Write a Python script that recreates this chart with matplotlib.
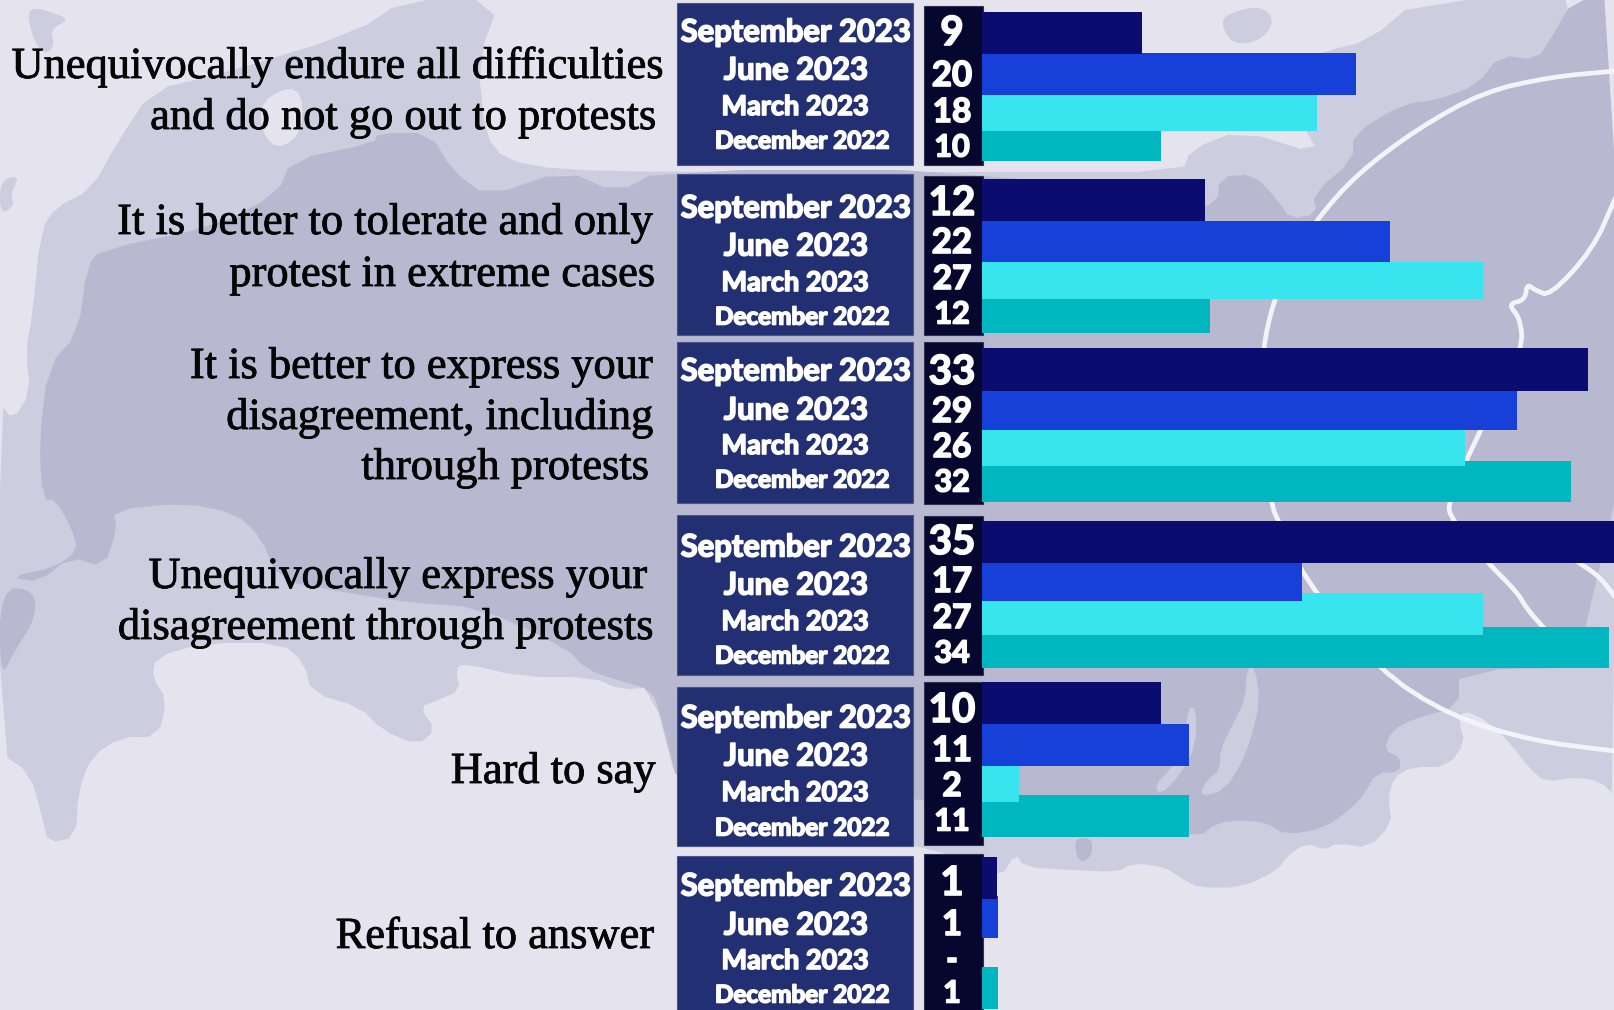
import matplotlib
matplotlib.use("Agg")
import matplotlib.pyplot as plt
from matplotlib.patches import Polygon, Rectangle
import matplotlib.patheffects as pe

# data
categories = [
    ["Unequivocally endure all difficulties", "and do not go out to protests"],
    ["It is better to tolerate and only", "protest in extreme cases"],
    ["It is better to express your", "disagreement, including", "through protests"],
    ["Unequivocally express your", "disagreement through protests"],
    ["Hard to say"],
    ["Refusal to answer"],
]
waves = ["September 2023", "June 2023", "March 2023", "December 2022"]
value_labels = [
    ["9", "20", "18", "10"],
    ["12", "22", "27", "12"],
    ["33", "29", "26", "32"],
    ["35", "17", "27", "34"],
    ["10", "11", "2", "11"],
    ["1", "1", "-", "1"],
]
# bar lengths as drawn, in percent
sep_2023 = [8.64, 12.05, 32.76, 35, 9.68, 0.81]
jun_2023 = [20.2, 22.05, 28.92, 17.3, 11.19, 0.86]
mar_2023 = [18.1, 27.08, 26.1, 27.08, 2.0, 0]
dec_2022 = [9.68, 12.32, 31.84, 33.9, 11.19, 0.86]

# colours
BG = "#e4e3ee"
MID = "#cdcde0"
DARK = "#b8b8d0"
RING = "#f4f4f8"
BOX = "#222f72"
NUMBOX = "#05072f"
C_SEP = "#0a0c70"
C_JUN = "#1640d8"
C_MAR = "#38e4ee"
C_DEC = "#00b7bf"

W, H = 1615, 1010
BAR_X0 = 982
PX_PER_PCT = 18.5

# layout in pixels
label_pos = [
    [(665, 78), (658, 129)],
    [(654, 234), (656, 286)],
    [(654, 378), (654, 429), (650, 479)],
    [(648, 588), (655, 639)],
    [(656, 783)],
    [(655, 948)],
]
date_boxes = [(3, 165), (174, 335), (342, 503), (515, 675), (687, 846), (856, 1014)]
num_boxes = [(6, 165), (176, 335), (342, 504), (516, 675), (682, 845), (854, 1014)]
date_y = [
    [30, 68, 105, 139],
    [206, 244, 281, 315],
    [369, 408, 444, 478],
    [545, 583, 620, 654],
    [716, 754, 791, 826],
    [884, 923, 959, 993],
]
date_x = [796, 796, 795, 802]
date_size = [22.3, 22.3, 19.5, 17.5]
num_y = [
    [30, 73, 110, 145],
    [200, 240, 277, 312],
    [369, 409, 445, 480],
    [539, 579, 616, 651],
    [707, 748, 784, 819],
    [880, 922, 958, 991],
]
num_size = [29, 25, 24, 22]
bar_spans = {
    "dec": [(131, 161), (299, 333), (461, 502), (627, 668), (795, 837), (967, 1009)],
    "mar": [(95, 131), (262, 299), (430, 466), (593, 635), (766, 802), (898, 938)],
    "jun": [(53, 95), (221, 262), (391, 430), (563, 601), (724, 766), (896, 938)],
    "sep": [(12, 54), (179, 221), (348, 391), (521, 563), (682, 724), (857, 899)],
}

# background map shapes
land = [(403, 0), (500, 0), (478, 60), (485, 135), (505, 160), (560, 170), (680, 172), (1000, 172),
        (1183, 172), (1190, 150), (1240, 130), (1320, 155), (1300, 120), (1290, 100), (1300, 62),
        (1323, 52), (1370, 40), (1417, 0), (1615, 0), (1615, 797), (1602, 782), (1576, 777),
        (1545, 782), (1529, 768), (1510, 743), (1486, 720), (1463, 710), (1459, 723), (1465, 743),
        (1447, 767), (1412, 767), (1394, 777), (1388, 800), (1392, 823), (1369, 848), (1337, 843),
        (1325, 850), (1306, 843), (1286, 857), (1278, 870), (1243, 887), (1200, 888), (1184, 880),
        (1165, 867), (1133, 863), (1118, 872), (1070, 870), (1024, 867), (1016, 853), (1000, 878),
        (982, 860), (680, 795), (652, 687), (622, 690), (591, 677), (522, 677), (462, 663),
        (456, 670), (460, 690), (439, 700), (419, 707), (436, 730), (417, 745), (382, 730),
        (360, 707), (312, 693), (304, 663), (282, 643), (204, 643), (156, 657), (152, 677),
        (167, 700), (158, 737), (121, 737), (91, 757), (78, 793), (76, 837), (48, 843), (43, 820),
        (30, 773), (0, 753), (0, 403), (13, 420), (30, 393), (26, 350), (32, 317), (41, 230),
        (56, 207), (91, 190), (117, 143), (152, 90), (217, 75), (355, 33)]
land_bits = [
    [(26, 5), (60, 15), (68, 20), (50, 30), (55, 45), (45, 55), (33, 40)],
    [(0, 180), (20, 175), (10, 195), (15, 205), (0, 215)],
    [(1223, 15), (1260, 5), (1275, 20), (1262, 40), (1235, 45), (1223, 30)],
    [(1340, 103), (1362, 103), (1358, 118), (1338, 122)],
]
gulf = [(260, 100), (300, 83), (304, 130), (280, 150), (262, 135)]
dark_land = [(87, 267), (100, 250), (217, 226), (278, 193), (291, 160), (374, 143), (378, 133),
             (430, 133), (452, 170), (487, 197), (565, 170), (617, 193), (660, 170), (982, 170),
             (1183, 209), (1217, 204), (1220, 177), (1253, 174), (1277, 199), (1290, 219),
             (1317, 214), (1313, 194), (1353, 160), (1353, 134), (1403, 104), (1437, 100),
             (1477, 85), (1500, 55), (1537, 60), (1553, 35), (1573, 0), (1615, 0), (1615, 667),
             (1459, 670), (1459, 707), (1416, 718), (1392, 730), (1384, 750), (1400, 757),
             (1400, 772), (1376, 773), (1365, 793), (1353, 807), (1325, 828), (1286, 835),
             (1267, 823), (1243, 820), (1216, 823), (1200, 837), (1000, 837), (982, 800),
             (680, 793), (661, 717), (652, 690), (617, 680), (587, 670), (565, 647), (478, 607),
             (413, 603), (348, 593), (278, 580), (261, 537), (235, 513), (183, 503), (113, 510),
             (117, 530), (104, 567), (70, 557), (39, 582), (9, 577), (56, 567), (78, 550),
             (72, 530), (56, 500), (43, 500), (39, 443), (48, 367), (78, 333)]
dark_bits = [
    [(0, 587), (35, 590), (35, 620), (15, 650), (0, 680)],
    [(1075, 838), (1092, 838), (1092, 855), (1082, 863), (1076, 855)],
]
rivers = [
    [(1247, 668), (1255, 668), (1260, 700), (1252, 735), (1243, 760), (1225, 790), (1200, 797),
     (1205, 782), (1220, 770), (1220, 750), (1235, 720), (1245, 700)],
    [(1188, 708), (1196, 708), (1196, 745), (1180, 775), (1160, 795), (1155, 785), (1170, 770),
     (1185, 745)],
]
ring_lines = [
    [(1615, 71), (1550, 77), (1483, 92), (1417, 129), (1357, 174), (1317, 219), (1290, 262),
     (1273, 303), (1263, 348), (1258, 420), (1272, 507), (1278, 520), (1303, 577), (1377, 669),
     (1450, 716), (1533, 741), (1615, 751)],
    [(1615, 199), (1593, 249), (1550, 296), (1535, 290), (1527, 284), (1525, 300), (1508, 304),
     (1520, 318), (1523, 348), (1490, 410), (1447, 502), (1452, 520), (1487, 562), (1517, 592),
     (1527, 609), (1543, 627)],
    [(1578, 562), (1600, 577), (1615, 597)],
]


def soften(pts, closed=True, rounds=2):
    # corner cutting, only to round off the decorative map outline
    for _ in range(rounds):
        out = []
        n = len(pts)
        last = n if closed else n - 1
        if not closed:
            out.append(pts[0])
        for i in range(last):
            x0, y0 = pts[i]
            x1, y1 = pts[(i + 1) % n]
            out.append((0.75 * x0 + 0.25 * x1, 0.75 * y0 + 0.25 * y1))
            out.append((0.25 * x0 + 0.75 * x1, 0.25 * y0 + 0.75 * y1))
        if not closed:
            out.append(pts[-1])
        pts = out
    return pts


fig = plt.figure(figsize=(W / 100, H / 100), dpi=100, facecolor=BG)
ax = fig.add_axes([0, 0, 1, 1])
ax.set_xlim(0, W)
ax.set_ylim(H, 0)
ax.axis("off")

ax.add_patch(Polygon(soften(land, rounds=1), fc=MID, ec="none", zorder=1))
for p in land_bits:
    ax.add_patch(Polygon(soften(p), fc=MID, ec="none", zorder=1))
ax.add_patch(Polygon(soften(gulf), fc=BG, ec="none", zorder=1.1))
ax.add_patch(Polygon(soften(dark_land, rounds=1), fc=DARK, ec="none", zorder=1.2))
for p in dark_bits:
    ax.add_patch(Polygon(soften(p), fc=DARK, ec="none", zorder=1.2))
for p in rivers:
    ax.add_patch(Polygon(soften(p, rounds=1), fc=MID, ec="none", zorder=1.3))
for line in ring_lines:
    s = soften(line, closed=False)
    ax.plot([p[0] for p in s], [p[1] for p in s], color=RING, lw=3.4, zorder=1.4,
            solid_joinstyle="round")

# category text
thick = [pe.withStroke(linewidth=0.6, foreground="#050505")]
for lines, positions in zip(categories, label_pos):
    for line, (x, y) in zip(lines, positions):
        t = ax.text(x, y, line, ha="right", va="baseline", fontsize=32, color="#050505",
                    family="Liberation Serif", zorder=5)
        t.set_path_effects(thick)

# date and value boxes
heavy = [pe.withStroke(linewidth=1.2, foreground="white")]
for i in range(len(categories)):
    top, bottom = date_boxes[i]
    ax.add_patch(Rectangle((677, top), 236, bottom - top, fc=BOX, ec="#4a5590", lw=0.8, zorder=3))
    top, bottom = num_boxes[i]
    ax.add_patch(Rectangle((924, top), 59, bottom - top, fc=NUMBOX, ec="#30324f", lw=0.8, zorder=3))
    for j, wave in enumerate(waves):
        t = ax.text(date_x[j], date_y[i][j], wave, ha="center", va="center_baseline", color="white",
                    fontsize=date_size[j], family="Lato", fontweight="bold", zorder=4)
        t.set_path_effects(heavy)
        t = ax.text(952, num_y[i][j], value_labels[i][j], ha="center", va="center_baseline", color="white",
                    fontsize=num_size[j], family="Lato", fontweight="bold", zorder=4)
        t.set_path_effects(heavy)

# bars, drawn in their own axes so the percent scale sets their length
bar_ax = fig.add_axes([BAR_X0 / W, 0, (W - BAR_X0) / W, 1], facecolor="none")
bar_ax.set_xlim(0, (W - BAR_X0) / PX_PER_PCT)
bar_ax.set_ylim(H, 0)
bar_ax.axis("off")
for key, vals, col in [("dec", dec_2022, C_DEC), ("mar", mar_2023, C_MAR),
                       ("jun", jun_2023, C_JUN), ("sep", sep_2023, C_SEP)]:
    spans = bar_spans[key]
    centers = [(a + b) / 2 for a, b in spans]
    heights = [b - a for a, b in spans]
    bar_ax.barh(centers, vals, height=heights, color=col, left=0)

fig.savefig("out.png", dpi=100, facecolor=BG)
